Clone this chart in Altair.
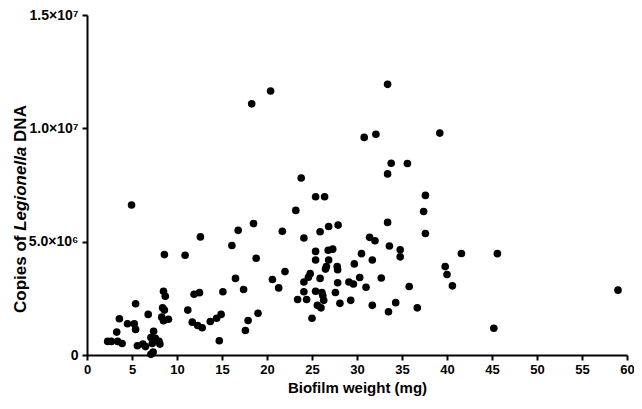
import altair as alt
import pandas as pd

# Biofilm weight (mg)
biofilm_mg = [
    8.6, 10.9, 8.5, 8.7, 5.4, 8.4, 8.6, 6.8, 8.3, 8.5, 9.05, 3.6, 4.5, 5.25, 5.4,
    3.3, 7.4, 7.1, 7.6, 2.3, 2.7, 3.4, 3.9, 5.6, 6.2, 6.5, 7.25, 8.0, 8.1, 7.35,
    7.1, 4.95,
    12.6, 16.1, 16.8, 18.5, 21.7, 23.2, 18.8, 16.5, 17.4, 15.1, 11.9, 12.5, 20.6,
    22.0, 21.3, 23.4, 11.2, 11.7, 12.3, 12.8, 13.7, 14.4, 14.9, 19.0, 17.9, 17.6,
    14.7,
    23.8, 25.4, 26.4, 33.4, 33.8, 33.4, 33.6, 24.1, 25.9, 26.85, 27.9, 25.4, 26.8,
    27.3, 25.4, 26.85, 26.6, 27.8, 26.5, 27.85, 29.7, 30.5, 31.4, 32.0, 31.7, 32.7,
    24.8, 24.6, 25.9, 24.1, 27.85, 29.1, 29.6, 30.3, 31.0, 24.1, 25.4, 26.1, 26.2,
    26.3, 27.6, 24.4, 25.6, 26.0, 28.1, 29.3, 31.7, 25.0, 33.5,
    39.2, 35.6, 37.6, 37.4, 37.6, 34.8, 34.8, 41.6, 39.8, 40.0, 40.6, 35.8, 34.3,
    36.7, 45.6, 45.2, 59.0, 18.3, 20.4, 33.4, 30.8, 32.1,
]

# Copies of Legionella DNA (millions)
copies_millions = [
    4.43, 4.40, 2.81, 2.59, 2.26, 2.08, 1.98, 1.79, 1.67, 1.51, 1.58, 1.60, 1.38,
    1.38, 1.13, 1.01, 1.05, 0.77, 0.74, 0.60, 0.60, 0.60, 0.51, 0.41, 0.48, 0.37,
    0.51, 0.60, 0.48, 0.13, 0.03, 6.62,
    5.21, 4.83, 5.50, 5.80, 5.46, 6.38, 4.27, 3.38, 2.89, 2.79, 2.68, 2.75, 3.33,
    3.68, 2.96, 2.45, 1.98, 1.45, 1.30, 1.20, 1.48, 1.62, 1.79, 1.84, 1.52, 1.08,
    0.63,
    7.81, 6.98, 6.98, 7.99, 8.46, 5.85, 4.81, 5.16, 5.44, 5.67, 5.73, 4.57, 4.62,
    4.67, 4.19, 4.19, 3.90, 3.90, 3.79, 3.76, 4.02, 4.47, 5.19, 5.04, 4.19, 3.40,
    3.59, 3.43, 3.38, 3.22, 3.19, 3.22, 3.13, 3.42, 2.99, 2.79, 2.81, 2.76, 2.62,
    2.41, 2.76, 2.45, 2.19, 2.08, 2.28, 2.41, 2.19, 1.62, 1.91,
    9.79, 8.45, 7.04, 6.33, 5.36, 4.64, 4.33, 4.48, 3.90, 3.55, 3.05, 3.02, 2.31,
    2.08, 4.47, 1.18, 2.86, 11.08, 11.65, 11.94, 9.60, 9.74,
]

x_ticks = [0, 5, 10, 15, 20, 25, 30, 35, 40, 45, 50, 55, 60]
y_ticks = [0, 5e6, 1e7, 1.5e7]
y_tick_labels = ["0", "5.0×10⁶", "1.0×10⁷", "1.5×10⁷"]

x_title = "Biofilm weight (mg)"
y_title_parts = ["Copies of", "Legionella", "DNA"]

df = pd.DataFrame({
    "weight": biofilm_mg,
    "copies": [v * 1e6 for v in copies_millions],
})

label_expr = " : ".join(
    f"datum.value == {v} ? '{t}'" for v, t in zip(y_ticks, y_tick_labels)
) + " : ''"

FONT = "Liberation Sans"
W, H = 540, 340

points = alt.Chart(df).mark_circle(size=58, color="#000000", opacity=1).encode(
    x=alt.X(
        "weight:Q",
        scale=alt.Scale(domain=[0, 60], nice=False, zero=True),
        axis=alt.Axis(
            values=x_ticks, title=x_title, labelFlush=False,
            labelOverlap=False, labelFontSize=13,
        ),
    ),
    y=alt.Y(
        "copies:Q",
        scale=alt.Scale(domain=[0, 1.5e7], nice=False),
        axis=alt.Axis(values=y_ticks, labelExpr=label_expr, title=None,
                      labelFlush=False, labelOverlap=False, labelFontSize=14),
    ),
)

# y title assembled from pieces so that "Legionella" can be italic
fs = 17
w1 = 68.3 * fs / 15
w2 = 74.2 * fs / 15
sp = 4.2 * fs / 15
total = w1 + w2 + 32.5 * fs / 15 + 2 * sp
center_y = 194
y_start = center_y + total / 2
title_x = -66
pieces = []
ypos = y_start
for txt, style, w in [(y_title_parts[0], "normal", w1),
                      (y_title_parts[1], "italic", w2),
                      (y_title_parts[2], "normal", 0)]:
    pieces.append(
        alt.Chart(pd.DataFrame({"t": [txt]})).mark_text(
            angle=270, align="left", baseline="middle", font=FONT,
            fontWeight="bold", fontStyle=style, fontSize=fs, color="#000000",
        ).encode(text="t:N", x=alt.value(title_x), y=alt.value(ypos))
    )
    ypos = ypos - w - sp

chart = alt.layer(points, *pieces).properties(
    width=W, height=H,
    autosize=alt.AutoSizeParams(type="none"),
    padding={"left": 79, "top": 7, "right": 7, "bottom": 46},
).configure_view(stroke=None).configure_axis(
    domainColor="#000000", domainWidth=2, tickColor="#000000", tickWidth=2,
    tickSize=5, grid=False, labelFont=FONT, labelFontWeight="bold",
    labelColor="#000000", titleFont=FONT,
    titleFontWeight="bold", titleFontSize=15, titleColor="#000000",
    labelPadding=3,
).configure_axisX(titlePadding=4).configure_axisY(labelPadding=4)

chart.save("out.html", embed_options={"renderer": "svg", "actions": False})
